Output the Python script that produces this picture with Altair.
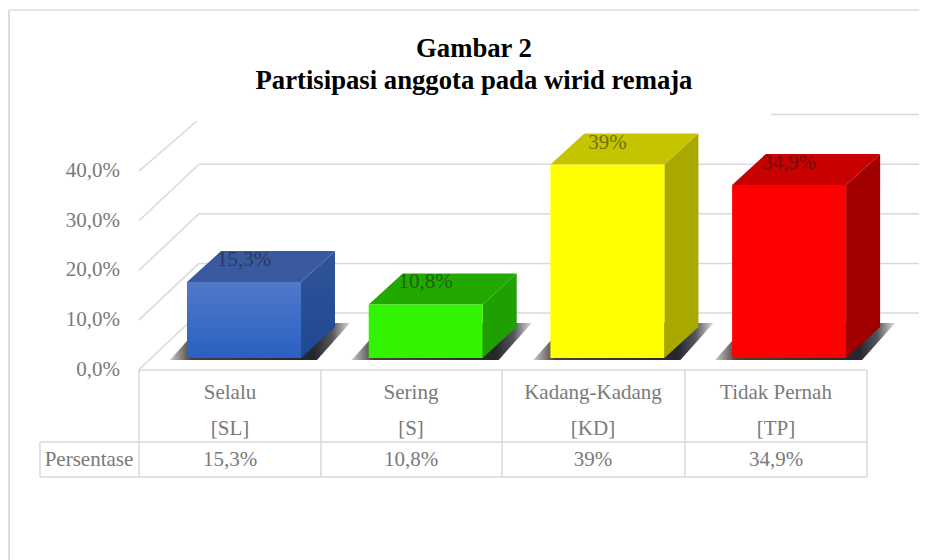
import altair as alt
import pandas as pd

categories = ["Selalu", "Sering", "Kadang-Kadang", "Tidak Pernah"]
codes = ["[SL]", "[S]", "[KD]", "[TP]"]
values = [15.3, 10.8, 39.0, 34.9]
value_labels = ["15,3%", "10,8%", "39%", "34,9%"]
y_ticks = [0, 10, 20, 30, 40]
y_tick_labels = ["0,0%", "10,0%", "20,0%", "30,0%", "40,0%"]
row_header = "Persentase"
title_lines = ["Gambar 2", "Partisipasi anggota pada wirid remaja"]

# --- projection settings (pixels of the picture -> scale units)
CAT_STEP = 181.7
CAT0_PX = 244.0
PCT_PX = 4.96
BASE_PX = 358.0
W, H = 911, 552
ORIGIN = 8


def ux(px):  # horizontal px -> category units
    return (px - CAT0_PX) / CAT_STEP


def uy(px):  # vertical px -> percent units
    return (BASE_PX - px) / PCT_PX


sx = alt.Scale(domain=[ux(ORIGIN), ux(ORIGIN + W)], range=[0, W], nice=False, zero=False)
sy = alt.Scale(domain=[uy(ORIGIN + H), uy(ORIGIN)], range=[H, 0], nice=False, zero=False)
X = alt.X("x:Q", scale=sx, axis=None)
Y = alt.Y("y:Q", scale=sy, axis=None)

BAR_W = 114 / CAT_STEP
DX = 34 / CAT_STEP
DY = 31 / PCT_PX
GRID = "#d9d9d9"
TEXT = "#7a7a7a"
FONT = "Liberation Serif"
FS = 21


def grad(top, bottom):
    return alt.LinearGradient(
        gradient="linear",
        stops=[alt.GradientStop(offset=0, color=top), alt.GradientStop(offset=1, color=bottom)],
        x1=0, x2=0, y1=0, y2=1,
    )


shadow_fill = alt.LinearGradient(
    gradient="linear",
    stops=[
        alt.GradientStop(offset=0, color="#c8c8c8"),
        alt.GradientStop(offset=0.12, color="#4a4038"),
        alt.GradientStop(offset=0.8, color="#26262e"),
        alt.GradientStop(offset=0.9, color="#55555c"),
        alt.GradientStop(offset=1, color="#dddddd"),
    ],
    x1=0, x2=1, y1=0, y2=0,
)

faces = [
    (grad("#5079c9", "#2a60c2"), "#3a5a9f", grad("#2f5399", "#1f4a90")),
    ("#33f400", "#22a900", "#1f9f00"),
    ("#ffff00", "#c4c400", "#a8a800"),
    ("#ff0000", "#c80000", "#a00000"),
]


def area(points, fill, **kw):
    df = pd.DataFrame(points, columns=["x", "y", "y2"])
    return alt.Chart(df).mark_area(color=fill, **kw).encode(x=X, y=Y, y2=alt.Y2("y2:Q"))


def lines(rows, color=GRID, width=1.5):
    df = pd.DataFrame(rows, columns=["x", "x2", "y", "y2"])
    return alt.Chart(df).mark_rule(color=color, strokeWidth=width).encode(
        x=X, x2=alt.X2("x2:Q"), y=Y, y2=alt.Y2("y2:Q")
    )


def texts(xs, ys, labels, align="center", color=TEXT, size=FS, opacity=1.0):
    df = pd.DataFrame({"x": xs, "y": ys, "t": labels})
    return alt.Chart(df).mark_text(
        font=FONT, fontSize=size, align=align, baseline="middle", color=color, opacity=opacity
    ).encode(x=X, y=Y, text="t:N")


layers = []

# frame of the picture
layers.append(alt.Chart(pd.DataFrame({"a": [0]})).mark_rule(color="#dcdcdc", strokeWidth=2).encode(
    x=alt.value(1), y=alt.value(2), y2=alt.value(H)))
layers.append(alt.Chart(pd.DataFrame({"a": [0]})).mark_rule(color="#e4e4e4", strokeWidth=2).encode(
    x=alt.value(1), x2=alt.value(W), y=alt.value(2)))

# walls: back gridlines and side-wall diagonals
WALL_L, WALL_B, WALL_R = ux(139), ux(199), ux(927)
front0, back0 = uy(369.5), uy(313)
grid_rows = []
for t in y_ticks:
    start = ux(771) if t == y_ticks[-1] else WALL_B
    grid_rows.append((start, WALL_R, back0 + t, back0 + t))
    end_x = ux(197) if t == y_ticks[-1] else WALL_B
    end_y = uy(121) if t == y_ticks[-1] else back0 + t
    grid_rows.append((WALL_L, end_x, front0 + t, end_y))
layers.append(lines(grid_rows))

# table
col_c = [ux(230), ux(411), ux(593), ux(776)]
col_edges = [ux(139), ux(321), ux(502), ux(685), ux(867)]
t_top, t_mid, t_bot = uy(370), uy(442), uy(477)
table_rows = [
    (col_edges[0], col_edges[-1], t_top, t_top),
    (ux(40), col_edges[-1], t_mid, t_mid),
    (ux(40), col_edges[-1], t_bot, t_bot),
    (ux(40), ux(40), t_mid, t_bot),
]
for e in col_edges:
    table_rows.append((e, e, t_top, t_bot))
layers.append(lines(table_rows))

# bars: shadow, then side, top, front
for i, v in enumerate(values):
    x0, x1 = i - BAR_W / 2, i + BAR_W / 2
    s0, s1 = x0 - 17 / CAT_STEP, x1 + 16 / CAT_STEP
    sdx, sdy = 33 / CAT_STEP, 35 / PCT_PX
    low = -0.4
    layers.append(area([
        (s0, low, low),
        (s0 + sdx, sdy, low),
        (s1, sdy, low),
        (s1 + sdx, sdy, sdy),
    ], shadow_fill))
    front, top, side = faces[i]
    layers.append(area([(x1, v, 0), (x1 + DX, v + DY, DY)], side))
    layers.append(area([
        (x0, v, v),
        (x0 + DX, v + DY, v),
        (x1, v + DY, v),
        (x1 + DX, v + DY, v + DY),
    ], top))
    layers.append(area([(x0, v, 0), (x1, v, 0)], front))

# data labels lying on the top faces
layers.append(texts(
    list(range(len(values))),
    [v + 22 / PCT_PX for v in values],
    value_labels, color="#1a1a1a", opacity=0.5,
))

# value axis labels
layers.append(texts([ux(120)] * len(y_ticks), [front0 + t for t in y_ticks], y_tick_labels, align="right"))

# table text
layers.append(texts(col_c, [uy(393)] * 4, categories))
layers.append(texts(col_c, [uy(429)] * 4, codes))
layers.append(texts(col_c, [uy(460)] * 4, value_labels))
layers.append(texts([ux(89)], [uy(460)], [row_header]))

chart = alt.layer(*layers).properties(
    width=W,
    height=H,
    padding=0,
    autosize=alt.AutoSizeParams(type="none"),
    background="white",
    title=alt.TitleParams(
        text=title_lines,
        font=FONT,
        fontSize=26.7,
        fontWeight="bold",
        color="black",
        anchor="middle",
        baseline="top",
        lineHeight=32,
        offset=-87,
        dx=10.5,
    ),
).configure_view(stroke=None)

chart.save("out.html", embed_options={"renderer": "svg", "actions": False})
